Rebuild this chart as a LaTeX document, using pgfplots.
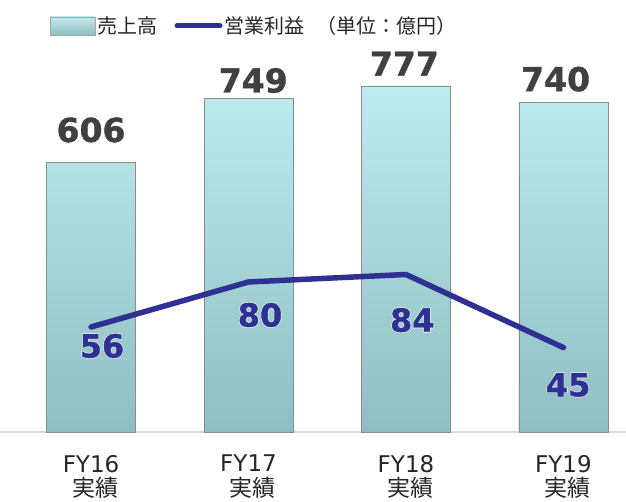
\documentclass[border=0pt]{standalone}
\usepackage{fontspec}
\setmainfont{DejaVu Sans}
\newfontfamily\jp{Noto Sans CJK JP}
\newfontfamily\glow{DejaVu Sans Bold}[FakeBold=5]
\newfontfamily\heavy{DejaVu Sans Bold}[FakeBold=1.2]
\usepackage{pgfplots}
\pgfplotsset{compat=1.18}
\definecolor{navy}{HTML}{2E3192}
\definecolor{bartop}{HTML}{BDEBEE}
\definecolor{barbot}{HTML}{90BDC0}
\definecolor{lbl}{HTML}{404040}
\begin{document}
\begin{tikzpicture}[x=1pt,y=1pt]
\useasboundingbox (0,-70) rectangle (626,432);
\begin{axis}[at={(0,0)}, anchor=south west, scale only axis,
  width=626pt, height=432pt,
  xmin=-0.578, xmax=3.397, ymin=0, ymax=969.7,
  axis y line=none, axis x line*=bottom,
  x axis line style={draw=black!15, line width=2pt, -},
  xtick={0,1,2,3},
  xticklabels={{FY16\\{\jp\hspace*{8pt}実績}},{FY17\\{\jp\hspace*{8pt}実績}},{FY18\\{\jp\hspace*{8pt}実績}},{FY19\\{\jp\hspace*{8pt}実績}}},
  major tick length=0pt, ytick=\empty, clip=false,
  xticklabel style={align=center, font=\fontsize{23}{24.5}\selectfont, inner sep=0pt, yshift=-23pt, text=black!85},
]
\addplot[ybar, bar width=89pt, top color=bartop, bottom color=barbot, draw=black!45,
  preaction={draw=none, fill=black!18, xshift=2pt, yshift=-1.5pt}]
  coordinates {(0,606)(1,749)(2,777)(3,740)};
\addplot[draw=none, mark=none, nodes near coords, point meta=explicit symbolic,
  nodes near coords style={anchor=center, font=\heavy\fontsize{33}{33}\selectfont, text=lbl}]
  coordinates {(0,678)[606] (1.03,789)[749] (1.99,827)[777] (2.95,792)[740]};
\end{axis}
\begin{axis}[at={(0,0)}, anchor=south west, scale only axis,
  width=626pt, height=432pt,
  xmin=-0.578, xmax=3.397, ymin=0, ymax=230.4,
  hide axis, clip=false]
\addplot[navy, line width=5.5pt, line cap=round, line join=round, mark=none]
  coordinates {(0,56)(1,80)(2,84)(3,45)};
\addplot[draw=none, mark=none, nodes near coords, point meta=explicit symbolic,
  nodes near coords style={anchor=center, font=\glow\fontsize{32}{32}\selectfont, text=white, opacity=0.85}]
  coordinates {(0.07,45.9)[56] (1.073,62.4)[80] (2.04,59.7)[84] (3.03,25.1)[45]};
\addplot[draw=none, mark=none, nodes near coords, point meta=explicit symbolic,
  nodes near coords style={anchor=center, font=\heavy\fontsize{32}{32}\selectfont, text=navy}]
  coordinates {(0.07,45.9)[56] (1.073,62.4)[80] (2.04,59.7)[84] (3.03,25.1)[45]};
\end{axis}
\shade[top color=bartop, bottom color=barbot, draw=black!35] (50,415) rectangle (95,397);
\draw[navy, line width=5pt, line cap=round] (177,406) -- (220,406);
\node[anchor=west, inner sep=0pt, font=\jp\fontsize{20}{20}\selectfont, text=black!85] at (97,406) {売上高};
\node[anchor=west, inner sep=0pt, font=\jp\fontsize{20}{20}\selectfont, text=black!85] at (224,406) {営業利益};
\node[anchor=west, inner sep=0pt, font=\jp\fontsize{20}{20}\selectfont, text=black!85] at (316,406) {（単位：億円）};
\end{tikzpicture}
\end{document}
